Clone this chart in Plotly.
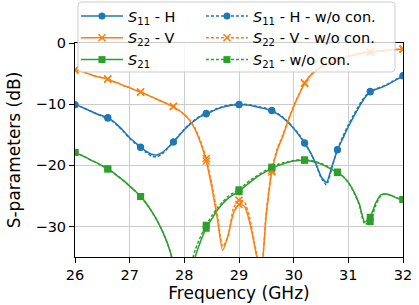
import plotly.graph_objects as go

# Frequency grid (GHz)
freq_ghz = [26.0, 26.1, 26.2, 26.3, 26.4, 26.5, 26.6, 26.7, 26.8, 26.9,
            27.0, 27.1, 27.2, 27.3, 27.4, 27.5, 27.6, 27.7, 27.8, 27.9,
            28.0, 28.1, 28.2, 28.3, 28.4, 28.5, 28.6, 28.7, 28.8, 28.9,
            29.0, 29.1, 29.2, 29.3, 29.4, 29.5, 29.6, 29.7, 29.8, 29.9,
            30.0, 30.1, 30.2, 30.3, 30.4, 30.5, 30.6, 30.7, 30.8, 30.9,
            31.0, 31.1, 31.2, 31.3, 31.4, 31.5, 31.6, 31.7, 31.8, 31.9, 32.0]

s11_h = [-10.1, -10.4, -10.8, -11.2, -11.6, -11.9, -12.2, -12.8, -13.6, -14.5,
         -15.5, -16.3, -17.0, -17.7, -18.2, -18.3, -17.9, -17.1, -16.2, -15.2,
         -14.2, -13.3, -12.6, -12.0, -11.6, -11.2, -10.8, -10.5, -10.3, -10.15,
         -10.1, -10.1, -10.2, -10.4, -10.6, -10.8, -11.1, -11.6, -12.2, -13.0,
         -14.0, -15.1, -16.4, -17.8, -19.6, -21.8, -22.8, -20.2, -17.5, -15.6,
         -13.7, -12.0, -10.4, -9.0, -8.0, -7.6, -7.3, -6.9, -6.4, -5.9, -5.4]

s11_h_wo = [-10.1, -10.4, -10.8, -11.2, -11.6, -12.0, -12.3, -12.9, -13.7, -14.6,
            -15.6, -16.4, -17.1, -17.9, -18.5, -18.6, -18.1, -17.2, -16.2, -15.1,
            -14.1, -13.2, -12.5, -11.9, -11.5, -11.1, -10.7, -10.4, -10.2, -10.05,
            -10.0, -10.0, -10.1, -10.3, -10.5, -10.7, -11.0, -11.5, -12.1, -12.9,
            -13.9, -15.0, -16.3, -17.8, -19.7, -22.0, -23.2, -20.4, -17.4, -15.3,
            -13.4, -11.7, -10.1, -8.8, -7.9, -7.5, -7.2, -6.8, -6.3, -5.8, -5.3]

s22_v = [-4.4, -4.6, -4.9, -5.2, -5.5, -5.7, -5.9, -6.3, -6.6, -7.0,
         -7.3, -7.7, -8.0, -8.4, -8.8, -9.2, -9.6, -10.0, -10.4, -11.0,
         -11.7, -12.7, -14.2, -16.4, -19.3, -23.5, -28.5, -33.9, -31.5, -27.8,
         -26.4, -26.7, -29.5, -33.8, -38.0, -28.0, -21.1, -17.5, -15.3, -12.7,
         -10.4, -8.4, -6.6, -5.4, -4.6, -4.0, -3.6, -3.2, -2.8, -2.5,
         -2.2, -2.0, -1.8, -1.6, -1.5, -1.4, -1.3, -1.2, -1.1, -1.05, -1.0]

s22_v_wo = [-4.4, -4.6, -4.9, -5.2, -5.5, -5.7, -5.9, -6.3, -6.6, -7.0,
            -7.3, -7.7, -8.0, -8.4, -8.8, -9.2, -9.6, -10.0, -10.4, -11.0,
            -11.7, -12.6, -14.0, -16.1, -18.9, -23.0, -27.8, -33.3, -31.6, -27.0,
            -25.7, -26.0, -28.8, -33.5, -38.0, -27.5, -20.8, -17.3, -15.1, -12.6,
            -10.3, -8.3, -6.5, -5.3, -4.5, -3.9, -3.5, -3.1, -2.7, -2.4,
            -2.1, -1.9, -1.7, -1.6, -1.5, -1.4, -1.3, -1.2, -1.1, -1.05, -1.0]

s21 = [-17.9, -18.3, -18.7, -19.2, -19.6, -20.1, -20.6, -21.2, -21.9, -22.6,
       -23.4, -24.2, -25.1, -26.2, -27.5, -29.0, -30.8, -33.0, -36.0, -40.0,
       -42.0, -39.0, -35.0, -32.4, -30.3, -28.8, -27.4, -26.3, -25.4, -24.8,
       -24.3, -23.5, -22.8, -22.1, -21.5, -21.0, -20.5, -20.1, -19.8, -19.5,
       -19.3, -19.2, -19.2, -19.3, -19.5, -19.8, -20.2, -20.7, -21.2, -21.8,
       -22.8, -24.3, -26.3, -29.3, -28.5, -26.2, -24.8, -24.7, -25.0, -25.4, -25.6]

s21_wo = [-17.9, -18.3, -18.7, -19.2, -19.6, -20.1, -20.6, -21.2, -21.9, -22.6,
          -23.4, -24.2, -25.1, -26.2, -27.5, -29.0, -30.8, -33.0, -36.0, -40.0,
          -41.0, -37.0, -33.8, -31.6, -29.8, -28.3, -27.0, -26.0, -25.1, -24.5,
          -24.0, -23.2, -22.5, -21.9, -21.3, -20.8, -20.3, -19.9, -19.6, -19.4,
          -19.2, -19.1, -19.1, -19.2, -19.4, -19.7, -20.1, -20.6, -21.1, -21.8,
          -22.8, -24.4, -26.5, -29.6, -29.2, -26.6, -24.9, -24.7, -25.0, -25.4, -25.6]

y_tick_vals = [0, -10, -20, -30]
y_tick_text = ["0", "\u221210", "\u221220", "\u221230"]
x_tick_vals = [26, 27, 28, 29, 30, 31, 32]

BLUE, ORANGE, GREEN = "#1f77b4", "#ff7f0e", "#2ca02c"
MARK_EVERY = 6

series = [
    ("<i>S</i><sub>11</sub> - H", s11_h, BLUE, "circle", "solid", "legend"),
    ("<i>S</i><sub>22</sub> - V", s22_v, ORANGE, "x-thin", "solid", "legend"),
    ("<i>S</i><sub>21</sub>", s21, GREEN, "square", "solid", "legend"),
    ("<i>S</i><sub>11</sub> - H - w/o con.", s11_h_wo, BLUE, "circle", "3px,2px", "legend2"),
    ("<i>S</i><sub>22</sub> - V - w/o con.", s22_v_wo, ORANGE, "x-thin", "3px,2px", "legend2"),
    ("<i>S</i><sub>21</sub> - w/o con.", s21_wo, GREEN, "square", "3px,2px", "legend2"),
]

fig = go.Figure()


def marker_style(color, symbol):
    if symbol == "x-thin":
        return dict(symbol=symbol, size=7, color=color, line=dict(color=color, width=1.5))
    return dict(symbol=symbol, size=7, color=color, line=dict(width=0))


for name, vals, color, symbol, dash, lg in series:
    fig.add_trace(go.Scatter(x=freq_ghz, y=vals, mode="lines",
                             line=dict(color=color, width=1.5, dash=dash, shape="spline", smoothing=0.6),
                             showlegend=False, hoverinfo="skip"))
    fig.add_trace(go.Scatter(x=freq_ghz[::MARK_EVERY], y=vals[::MARK_EVERY], mode="markers",
                             marker=marker_style(color, symbol), showlegend=False, hoverinfo="skip"))

for name, vals, color, symbol, dash, lg in series:
    fig.add_trace(go.Scatter(x=[None], y=[None], mode="lines+markers", name=name, legend=lg,
                             line=dict(color=color, width=1.5, dash=dash),
                             marker=marker_style(color, symbol)))

# Shared legend frame (semi-transparent, drawn above the data)
xL, xR, yT, yB = 0.0091, 0.9756, 1.1916, 0.8645
rx, ry = 0.0110, 0.0168
frame_path = (f"M {xL+rx},{yT} L {xR-rx},{yT} Q {xR},{yT} {xR},{yT-ry} "
              f"L {xR},{yB+ry} Q {xR},{yB} {xR-rx},{yB} L {xL+rx},{yB} "
              f"Q {xL},{yB} {xL},{yB+ry} L {xL},{yT-ry} Q {xL},{yT} {xL+rx},{yT} Z")
fig.add_shape(type="path", path=frame_path, xref="paper", yref="paper", layer="above",
              fillcolor="rgba(255,255,255,0.8)", line=dict(color="#cccccc", width=1))

FONT = "DejaVu Sans"
legend_common = dict(yanchor="top", xanchor="left", bgcolor="rgba(0,0,0,0)", borderwidth=0,
                     itemwidth=42, font=dict(family=FONT, size=14.5), traceorder="normal")
fig.update_layout(
    width=419, height=305,
    margin=dict(l=75, r=16, t=43, b=48, autoexpand=False),
    paper_bgcolor="white", plot_bgcolor="white",
    font=dict(family=FONT, size=14.5, color="black"),
    xaxis=dict(range=[26, 32], tickvals=x_tick_vals, showgrid=True, gridcolor="#cccccc", gridwidth=1,
               showline=True, linecolor="black", linewidth=1, mirror=True,
               ticks="outside", ticklen=5, tickcolor="black", zeroline=False,
               title=dict(text="Frequency (GHz)", standoff=4)),
    yaxis=dict(range=[-35, 0], tickvals=y_tick_vals, ticktext=y_tick_text, showgrid=True,
               gridcolor="#cccccc", gridwidth=1,
               showline=True, linecolor="black", linewidth=1, mirror=True,
               ticks="outside", ticklen=5, tickcolor="black", zeroline=False,
               title=dict(text="S-parameters (dB)", standoff=10)),
    legend=dict(x=0.003, y=1.201, **legend_common),
    legend2=dict(x=0.384, y=1.201, **legend_common),
)

fig.write_html("out.html", config={"displayModeBar": False},
               post_script="document.body.style.margin='0';")
